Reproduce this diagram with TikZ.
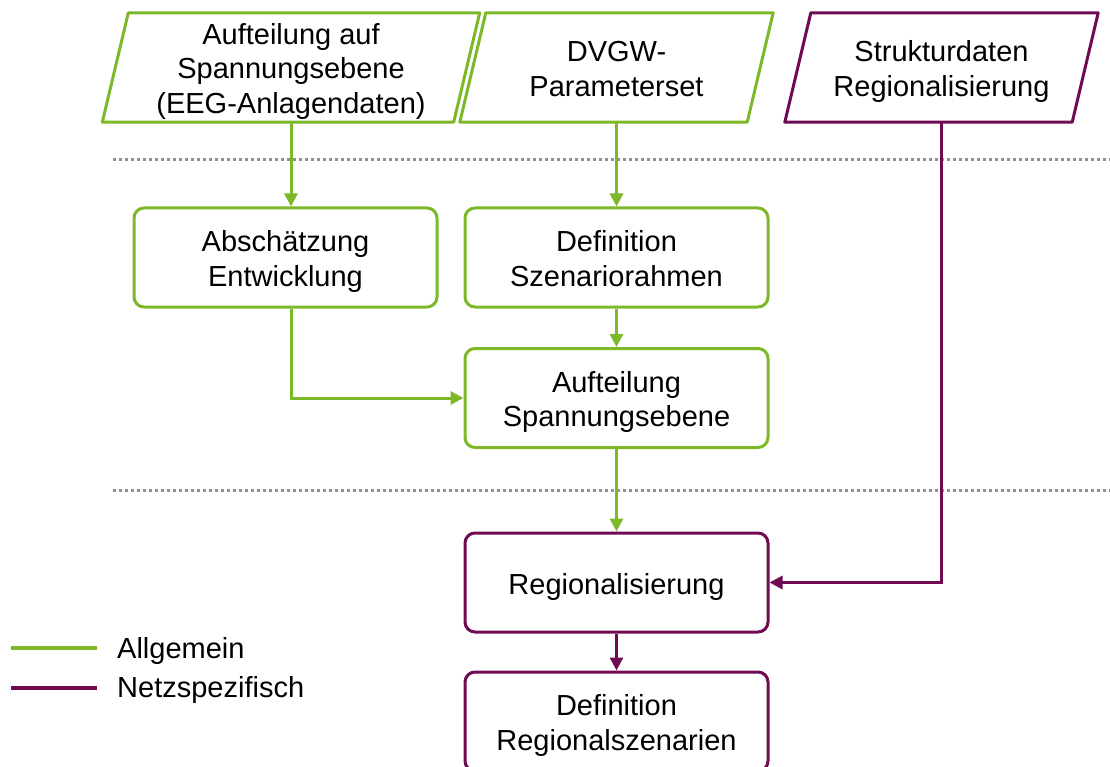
\documentclass[tikz,border=0pt]{standalone}
\usepackage{fontspec}
\setmainfont{Liberation Sans}
\usetikzlibrary{arrows.meta}
\definecolor{gruen}{RGB}{124,184,40}
\definecolor{lila}{RGB}{112,10,82}
\definecolor{punktgrau}{RGB}{145,145,145}
\newcommand{\ob}{\rule{0pt}{30pt}}
\newcommand{\un}{\rule[-7pt]{0pt}{7pt}}
\begin{document}
\begin{tikzpicture}[x=1pt,y=-1pt,
  font=\fontsize{29}{34.5}\selectfont,
  box/.style={draw, line width=3pt, rounded corners=10pt, minimum width=303pt,
    minimum height=99pt, align=center, inner sep=0pt, fill=white},
  gbox/.style={box, draw=gruen},
  pbox/.style={box, draw=lila},
  paratext/.style={minimum height=109pt, align=center, inner sep=0pt},
  paraline/.style={line width=3pt, line join=round},
  garrow/.style={draw=gruen, line width=3pt, -{Triangle[length=13pt,width=13pt]}},
  parrow/.style={draw=lila, line width=3pt, -{Triangle[length=13pt,width=13pt]}},
  dotline/.style={draw=punktgrau, line width=3pt, dash pattern=on 3pt off 3pt},
  legline/.style={line width=3.5pt},
  legtext/.style={anchor=base west, inner sep=0pt}
]
\useasboundingbox (0,0) rectangle (1110,767);

% dotted separators
\draw[dotline] (113,160) -- (1110,160);
\draw[dotline] (113,490) -- (1110,490);

% input parallelograms
\node[paratext, minimum width=351pt] (p1) at (291,67.5)
  {\ob Aufteilung auf\\Spannungsebene\\(EEG-Anlagendaten)\un};
\draw[paraline, draw=gruen]
  ([xshift=-13pt]p1.south west) -- ([xshift=-13pt]p1.south east)
  -- ([xshift=13pt]p1.north east) -- ([xshift=13pt]p1.north west) -- cycle;

\node[paratext, minimum width=287pt] (p2) at (616.5,67.5)
  {\ob DVGW-\\Parameterset\un};
\draw[paraline, draw=gruen]
  ([xshift=-13pt]p2.south west) -- ([xshift=-13pt]p2.south east)
  -- ([xshift=13pt]p2.north east) -- ([xshift=13pt]p2.north west) -- cycle;

\node[paratext, minimum width=287pt] (p3) at (941.5,67.5)
  {\ob Strukturdaten\\Regionalisierung\un};
\draw[paraline, draw=lila]
  ([xshift=-13pt]p3.south west) -- ([xshift=-13pt]p3.south east)
  -- ([xshift=13pt]p3.north east) -- ([xshift=13pt]p3.north west) -- cycle;

% process boxes
\node[gbox] (b1) at (285.5,257.5) {\ob Abschätzung\\Entwicklung\un};
\node[gbox] (b2) at (616.5,257.5) {\ob Definition\\Szenariorahmen\un};
\node[gbox] (b3) at (616.5,398) {\ob Aufteilung\\Spannungsebene\un};
\node[pbox] (b4) at (616.5,582.5) {\ob Regionalisierung\un};
\node[pbox] (b5) at (616.5,721.5) {\ob Definition\\Regionalszenarien\un};

% connectors
\draw[garrow] (p1.south) -- (p1.south |- b1.north);
\draw[garrow] (b1.south -| p1.south) |- (b3.west);
\draw[garrow] (p2.south) -- (b2.north);
\draw[garrow] (b2.south) -- (b3.north);
\draw[garrow] (b3.south) -- (b4.north);
\draw[parrow] (b4.south) -- (b5.north);
\draw[parrow] (p3.south) |- (b4.east);

% legend
\draw[legline, draw=gruen] (11,648) -- (97,648);
\draw[legline, draw=lila] (11,688) -- (97,688);
\node[legtext] (l1) at (117,658) {Allgemein};
\node[legtext] (l2) at (117,697) {Netzspezifisch};
\end{tikzpicture}
\end{document}
